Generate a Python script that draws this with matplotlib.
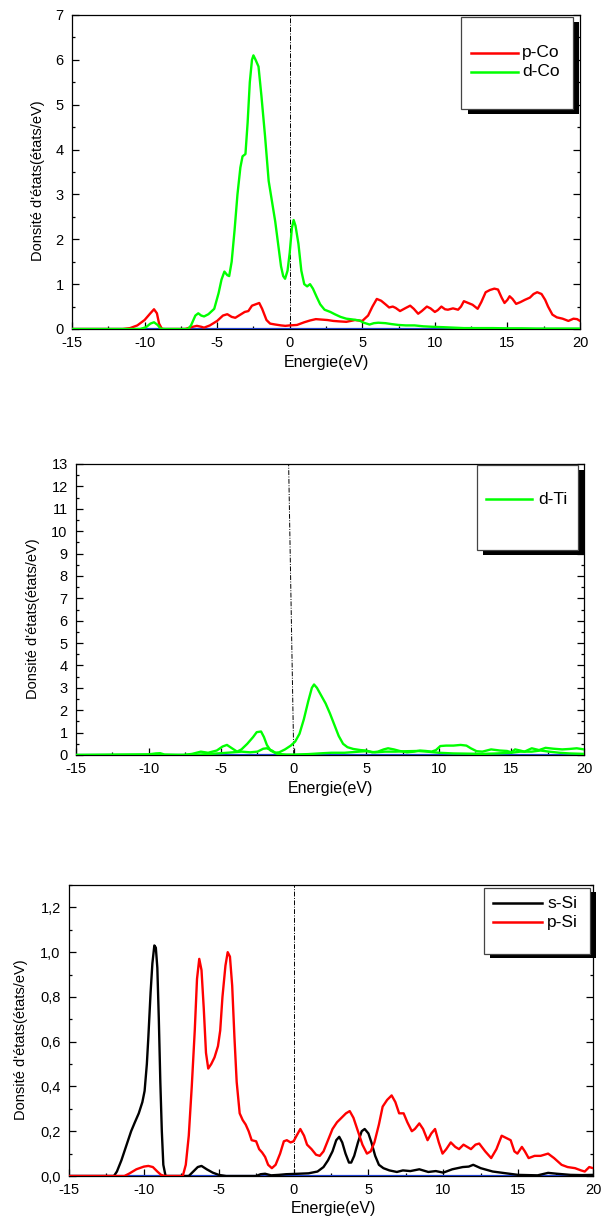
"""
Densités d'états partielles : Co, Ti, Si
"""
import matplotlib
matplotlib.use('Agg')
import numpy as np
from matplotlib import pyplot as plt
from matplotlib.patches import Rectangle
from matplotlib.ticker import MultipleLocator

plt.rcParams['font.family'] = ['Liberation Sans', 'DejaVu Sans']
plt.rcParams['axes.unicode_minus'] = False

# ---- données ----
# p-Co
CO_P_E = [-15, -11.5, -11, -10.5, -10, -9.6, -9.35, -9.15, -9.0, -8.8, -7.2, -6.8, -6.4, -6.1, -5.9,
          -5.5, -5.0, -4.6, -4.3, -4.0, -3.75, -3.4, -3.1, -2.85, -2.6, -2.35, -2.1, -1.9, -1.6,
          -1.35, -1.0, -0.6, -0.3, 0, 0.5, 1.0, 1.4, 1.8, 2.2, 2.6, 3.0, 3.4, 3.9, 4.5, 5.0, 5.4,
          5.7, 6.0, 6.3, 6.6, 6.85, 7.1, 7.3, 7.6, 8.0, 8.3, 8.55, 8.85, 9.1, 9.45, 9.7, 10.0,
          10.2, 10.45, 10.7, 10.9, 11.25, 11.6, 11.8, 12.0, 12.3, 12.6, 12.95, 13.2, 13.5, 13.8,
          14.1, 14.35, 14.6, 14.8, 15.0, 15.15, 15.35, 15.6, 15.9, 16.2, 16.55, 16.8, 17.05,
          17.35, 17.6, 17.8, 18.1, 18.4, 18.8, 19.2, 19.55, 19.8, 20]
CO_P = [0, 0, 0.02, 0.08, 0.2, 0.35, 0.44, 0.35, 0.12, 0, 0, 0.04, 0.07, 0.05, 0.03,
        0.08, 0.18, 0.3, 0.33, 0.27, 0.25, 0.32, 0.38, 0.4, 0.52, 0.55, 0.58, 0.45, 0.2,
        0.12, 0.1, 0.08, 0.07, 0.08, 0.09, 0.15, 0.19, 0.22, 0.21, 0.2, 0.18, 0.17, 0.16, 0.2, 0.18, 0.3,
        0.5, 0.67, 0.63, 0.55, 0.48, 0.5, 0.47, 0.4, 0.47, 0.52, 0.45, 0.34, 0.4, 0.5, 0.46, 0.38,
        0.42, 0.5, 0.44, 0.43, 0.46, 0.43, 0.5, 0.62, 0.58, 0.54, 0.45, 0.6, 0.82, 0.87,
        0.9, 0.88, 0.7, 0.58, 0.65, 0.73, 0.67, 0.56, 0.6, 0.65, 0.7, 0.78, 0.82,
        0.78, 0.65, 0.5, 0.32, 0.26, 0.23, 0.18, 0.23, 0.22, 0.18]

# d-Co
CO_D_E = [-15, -10.3, -9.9, -9.6, -9.35, -9.1, -8.9, -8.6, -7.0, -6.8, -6.5, -6.3, -6.1, -5.9, -5.6,
          -5.2, -4.9, -4.7, -4.5, -4.3, -4.17, -4.0, -3.8, -3.6, -3.4, -3.25, -3.05, -2.9, -2.75,
          -2.6, -2.5, -2.35, -2.15, -1.95, -1.7, -1.45, -1.25, -1.0, -0.8, -0.6, -0.45, -0.32,
          -0.15, 0.0, 0.15, 0.27, 0.4, 0.6, 0.8, 1.0, 1.2, 1.4, 1.6, 1.85, 2.1, 2.4, 2.8, 3.1, 3.5,
          3.9, 4.4, 4.8, 5.1, 5.5, 5.8, 6.1, 6.6, 7.0, 7.5, 8.0, 8.6, 9.2, 9.8, 10.6, 11.3, 12,
          13, 14, 15, 16, 17, 18, 19, 20]
CO_D = [0, 0, 0.04, 0.12, 0.15, 0.09, 0.01, 0, 0, 0.08, 0.3, 0.35, 0.3, 0.28, 0.33,
        0.45, 0.8, 1.1, 1.28, 1.2, 1.18, 1.5, 2.2, 3.0, 3.6, 3.85, 3.9, 4.6, 5.5,
        6.0, 6.1, 6.0, 5.85, 5.2, 4.3, 3.3, 2.9, 2.4, 1.9, 1.4, 1.18, 1.12,
        1.3, 1.7, 2.25, 2.43, 2.3, 1.9, 1.3, 1.0, 0.95, 1.0, 0.9, 0.72, 0.55, 0.43, 0.38, 0.33, 0.27,
        0.23, 0.21, 0.19, 0.14, 0.1, 0.13, 0.14, 0.13, 0.11, 0.09, 0.08, 0.08, 0.06, 0.05, 0.04, 0.03, 0.02,
        0.02, 0.02, 0.015, 0.015, 0.01, 0.01, 0.01, 0.01]

# d-Ti (deux courbes vertes)
TI_D_E = [-15, -12, -10, -9.5, -9.2, -8.9, -7.6, -7.0, -6.4, -5.9, -5.3, -4.9, -4.6, -4.3, -3.9,
          -3.6, -3.2, -2.8, -2.55, -2.25, -2.05, -1.85, -1.6, -1.3, -1.0, -0.6, -0.2, 0.1, 0.4,
          0.7, 1.0, 1.25, 1.4, 1.6, 1.9, 2.2, 2.5, 2.8, 3.1, 3.4, 3.7, 4.1, 4.6, 5.0, 5.4, 5.8,
          6.2, 6.5, 6.9, 7.3, 7.8, 8.3, 8.7, 9.1, 9.5, 9.8, 10.1, 10.5, 11.0, 11.5, 11.9, 12.2,
          12.6, 13.0, 13.6, 14.2, 14.7, 15.0, 15.25, 15.6, 15.9, 16.4, 16.9, 17.35, 17.9, 18.5,
          19.0, 19.5, 20]
TI_D = [0, 0.02, 0.03, 0.07, 0.08, 0.02, 0, 0.05, 0.15, 0.1, 0.2, 0.38, 0.45, 0.32, 0.15,
        0.25, 0.5, 0.8, 1.02, 1.05, 0.8, 0.45, 0.2, 0.1, 0.12, 0.25, 0.42, 0.6, 0.95,
        1.6, 2.4, 3.0, 3.15, 3.0, 2.65, 2.3, 1.85, 1.35, 0.85, 0.5, 0.35, 0.27, 0.22, 0.2, 0.12, 0.15,
        0.25, 0.3, 0.25, 0.18, 0.12, 0.15, 0.2, 0.18, 0.15, 0.22, 0.4, 0.42, 0.42, 0.45, 0.42, 0.3,
        0.17, 0.15, 0.25, 0.2, 0.18, 0.12, 0.25, 0.2, 0.15, 0.3, 0.22, 0.32, 0.28, 0.25,
        0.27, 0.3, 0.25]
TI_D2_E = [-15, -8, -6.5, -5, -4.2, -3.6, -3.0, -2.5, -2.1, -1.85, -1.5, -1.15, -0.5, 0, 1.0, 2.0,
           2.6, 3.5, 4.5, 5.0, 5.6, 6.3, 7.0, 7.8, 8.5, 9.2, 10, 11, 12, 13, 14, 15, 15.6, 16.4,
           17, 17.6, 18.3, 19, 20]
TI_D2 = [0, 0, 0.02, 0.08, 0.12, 0.15, 0.12, 0.15, 0.28, 0.3, 0.2, 0.05, 0.02, 0.02, 0.04, 0.08,
         0.1, 0.1, 0.15, 0.17, 0.12, 0.15, 0.15, 0.17, 0.18, 0.15, 0.1, 0.07, 0.06, 0.05, 0.07, 0.1, 0.15, 0.15,
         0.2, 0.15, 0.1, 0.07, 0.05]

# s-Si
SI_S_E = [-15, -12.0, -11.8, -11.5, -11.25, -10.85, -10.6, -10.34, -10.1, -9.95, -9.8, -9.7, -9.55,
          -9.43, -9.3, -9.2, -9.1, -9.0, -8.9, -8.8, -8.7, -8.55, -7.0, -6.7, -6.4, -6.15, -5.8,
          -5.4, -5, -4.5, -2.5, -2.2, -1.9, -1.5, -1.0, -0.5, 0.3, 1.0, 1.6, 2.0, 2.3, 2.6, 2.85,
          3.05, 3.25, 3.47, 3.7, 3.85, 4.05, 4.3, 4.55, 4.75, 5.0, 5.2, 5.45, 5.7, 6.0, 6.4, 6.9,
          7.3, 7.8, 8.4, 9.0, 9.5, 10.0, 10.6, 11.3, 11.7, 12.0, 12.5, 13.3, 14.2, 15.0, 16.3,
          17.0, 17.6, 18.5, 19.3, 20]
SI_S = [0, 0, 0.02, 0.07, 0.12, 0.2, 0.24, 0.28, 0.33, 0.38, 0.5, 0.62, 0.82,
        0.95, 1.03, 1.02, 0.93, 0.7, 0.42, 0.2, 0.05, 0, 0, 0.02, 0.04, 0.045, 0.03,
        0.015, 0.005, 0, 0, 0.008, 0.01, 0.003, 0.005, 0.008, 0.01, 0.012, 0.02, 0.04, 0.07, 0.11, 0.16,
        0.175, 0.15, 0.1, 0.06, 0.06, 0.09, 0.15, 0.2, 0.21, 0.19, 0.15, 0.09, 0.05, 0.035, 0.025, 0.018,
        0.025, 0.022, 0.03, 0.018, 0.022, 0.015, 0.03, 0.04, 0.042, 0.05, 0.035, 0.02, 0.012, 0.005, 0.003,
        0.014, 0.01, 0.005, 0.004, 0.005]

# p-Si
SI_P_E = [-15, -11.3, -11.0, -10.5, -10.0, -9.7, -9.4, -9.1, -8.85, -8.6, -7.4, -7.2, -7.0, -6.8,
          -6.6, -6.45, -6.3, -6.15, -6.0, -5.85, -5.7, -5.5, -5.28, -5.05, -4.9, -4.75, -4.55,
          -4.4, -4.25, -4.1, -3.95, -3.8, -3.6, -3.4, -3.2, -3.0, -2.8, -2.5, -2.3, -2.1, -1.9,
          -1.7, -1.45, -1.2, -0.9, -0.65, -0.45, -0.2, 0.0, 0.2, 0.45, 0.7, 0.9, 1.2, 1.5, 1.75,
          2.0, 2.3, 2.6, 2.9, 3.2, 3.5, 3.75, 4.0, 4.3, 4.6, 4.9, 5.15, 5.4, 5.7, 5.95, 6.25,
          6.55, 6.8, 7.05, 7.35, 7.6, 7.9, 8.1, 8.4, 8.65, 8.95, 9.2, 9.45, 9.7, 9.95, 10.2,
          10.5, 10.8, 11.05, 11.35, 11.6, 11.85, 12.15, 12.4, 12.8, 13.2, 13.55, 13.9, 14.2,
          14.5, 14.75, 14.95, 15.25, 15.45, 15.7, 16.1, 16.5, 17.0, 17.4, 17.9, 18.3, 18.8,
          19.2, 19.45, 19.75, 20]
SI_P = [0, 0, 0.01, 0.03, 0.042, 0.045, 0.04, 0.02, 0.005, 0, 0, 0.05, 0.18, 0.4,
        0.65, 0.88, 0.97, 0.92, 0.75, 0.55, 0.48, 0.5, 0.53, 0.58, 0.65, 0.8, 0.94,
        1.0, 0.98, 0.85, 0.62, 0.42, 0.28, 0.25, 0.23, 0.2, 0.16, 0.155, 0.12, 0.105, 0.085,
        0.05, 0.035, 0.05, 0.1, 0.155, 0.16, 0.15, 0.155, 0.18, 0.21, 0.18, 0.14, 0.12, 0.095, 0.09,
        0.11, 0.16, 0.21, 0.24, 0.26, 0.28, 0.29, 0.26, 0.2, 0.14, 0.1, 0.11, 0.15, 0.23, 0.31, 0.34,
        0.36, 0.33, 0.28, 0.28, 0.24, 0.2, 0.21, 0.235, 0.21, 0.16, 0.19, 0.21, 0.15, 0.1, 0.12,
        0.15, 0.13, 0.12, 0.14, 0.13, 0.12, 0.14, 0.145, 0.11, 0.08, 0.12, 0.18, 0.17,
        0.16, 0.11, 0.1, 0.13, 0.11, 0.08, 0.09, 0.09, 0.1, 0.08, 0.05, 0.04, 0.035,
        0.025, 0.02, 0.04, 0.035]

SI_YTICKS = [0.0, 0.2, 0.4, 0.6, 0.8, 1.0, 1.2]
SI_YTICKLABELS = ['0,0', '0,2', '0,4', '0,6', '0,8', '1,0', '1,2']

RED = '#ff0000'
GREEN = '#00ff00'
BLUE = '#1f3fd0'
W, H = 604, 1220


def fx(x):
    return x / W


def fy(y):
    return 1 - y / H


# cadre d'un panneau, en pixels (gauche, haut, droite, bas)
def make_axes(fig, l, t, r, b, ymax, ymajor, yminor):
    ax = fig.add_axes([fx(l), fy(b), (r - l) / W, (b - t) / H])
    ax.set_xlim(-15, 20)
    ax.set_ylim(0, ymax)
    ax.xaxis.set_major_locator(MultipleLocator(5))
    ax.xaxis.set_minor_locator(MultipleLocator(2.5))
    ax.yaxis.set_major_locator(MultipleLocator(ymajor))
    ax.yaxis.set_minor_locator(MultipleLocator(yminor))
    ax.tick_params(which='both', direction='in', right=True, top=False, width=0.9)
    ax.tick_params(which='major', length=5, labelsize=10.5)
    ax.tick_params(axis='y', which='major', pad=6)
    ax.tick_params(axis='x', which='major', pad=5)
    ax.tick_params(which='minor', length=2.5)
    for s in ax.spines.values():
        s.set_linewidth(0.9)
    ax.axhline(0, color=BLUE, lw=1.6, zorder=3)
    return ax


def labels(fig, xl_x, xl_y, yl_x, yl_y):
    fig.text(fx(xl_x), fy(xl_y), 'Energie(eV)', ha='center', va='center', fontsize=11.5)
    fig.text(fx(yl_x), fy(yl_y), "Donsité d'états(états/eV)", ha='center', va='center',
             rotation=90, fontsize=10.5)


# légende façon Origin : cadre blanc avec ombre noire
def draw_legend(fig, box, shadow, entries, line_x, text_x):
    x0, y0, x1, y1 = box
    dx, dy = shadow
    fig.add_artist(Rectangle((fx(x0 + dx), fy(y1 + dy)), (x1 - x0) / W, (y1 - y0) / H,
                             transform=fig.transFigure, facecolor='black', edgecolor='black',
                             lw=0, zorder=5))
    fig.add_artist(Rectangle((fx(x0), fy(y1)), (x1 - x0) / W, (y1 - y0) / H,
                             transform=fig.transFigure, facecolor='white', edgecolor='#444444',
                             lw=0.9, zorder=6))
    for label, color, y in entries:
        fig.add_artist(plt.Line2D([fx(line_x[0]), fx(line_x[1])], [fy(y), fy(y)],
                                  transform=fig.transFigure, color=color, lw=1.8, zorder=7))
        fig.text(fx(text_x), fy(y), label, ha='left', va='center', fontsize=12.5, zorder=7)


fig = plt.figure(figsize=(W / 100, H / 100), dpi=100)
dashdot = (0, (5, 1.5, 1, 1.5))

# ---- Co ----
ax1 = make_axes(fig, 72, 15, 580, 329, 7, 1, 0.5)
ax1.plot(CO_P_E, CO_P, color=RED, lw=1.7, zorder=4)
ax1.plot(CO_D_E, CO_D, color=GREEN, lw=1.7, zorder=4)
ax1.axvline(0, color='black', lw=0.7, ls=dashdot, zorder=2)
labels(fig, 326, 362, 38, 181)
draw_legend(fig, (461, 17, 572.5, 109), (6.5, 5),
            [('p-Co', RED, 53), ('d-Co', GREEN, 72)], (471, 518), 522)

# ---- Ti ----
ax2 = make_axes(fig, 76, 464, 584, 755, 13, 1, 0.5)
ax2.plot(TI_D2_E, TI_D2, color=GREEN, lw=1.7, zorder=4)
ax2.plot(TI_D_E, TI_D, color=GREEN, lw=1.7, zorder=4)
ax2.plot([0, -0.35], [0, 13], color='black', lw=0.7, ls=dashdot, zorder=2)
labels(fig, 330, 788, 33, 619)
draw_legend(fig, (477, 465, 578, 550), (6, 5),
            [('d-Ti', GREEN, 499)], (486, 532), 538)

# ---- Si ----
ax3 = make_axes(fig, 69, 885, 593, 1176, 1.3, 0.2, 0.1)
ax3.set_yticks(SI_YTICKS)
ax3.set_yticklabels(SI_YTICKLABELS)
ax3.plot(SI_S_E, SI_S, color='black', lw=1.7, zorder=4)
ax3.plot(SI_P_E, SI_P, color=RED, lw=1.7, zorder=4)
ax3.axvline(0, color='black', lw=0.7, ls=dashdot, zorder=2)
labels(fig, 333, 1209, 21, 1040)
draw_legend(fig, (484, 888, 590, 954), (6, 4),
            [('s-Si', 'black', 903), ('p-Si', RED, 922)], (493, 542), 547)

fig.savefig('out.png', dpi=100)
